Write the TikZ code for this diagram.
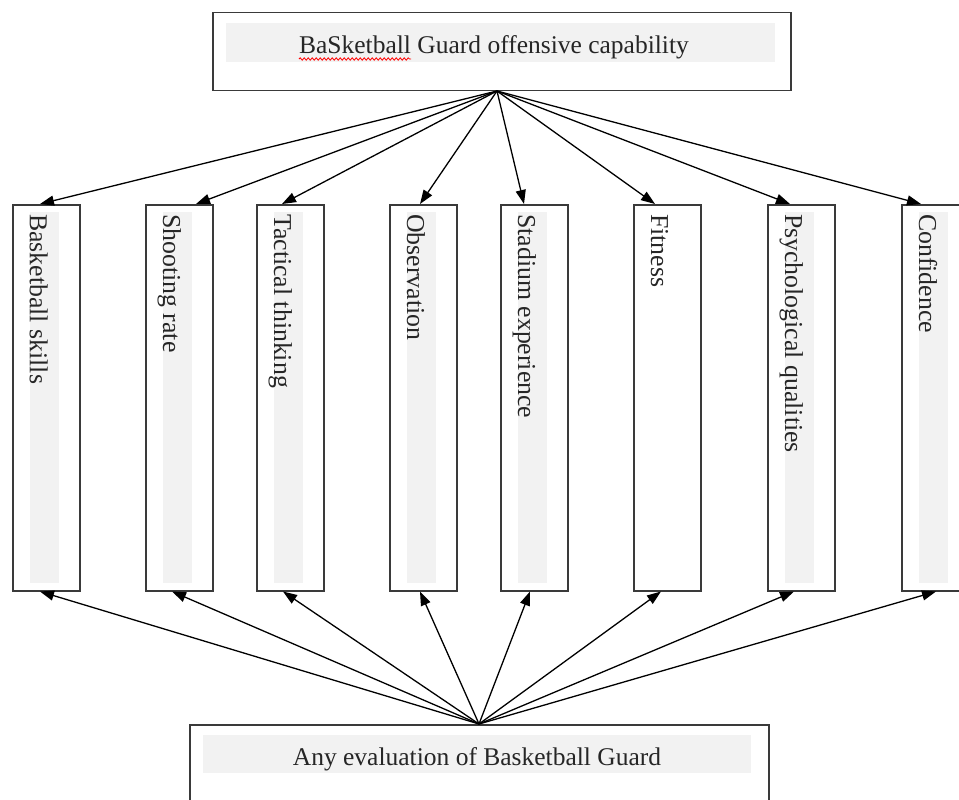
\documentclass[tikz,border=0pt]{standalone}
\usepackage{fontspec}
\setmainfont{Liberation Serif}
\usetikzlibrary{arrows.meta,calc,decorations.pathmorphing}
\definecolor{bandgray}{HTML}{F2F2F2}
\definecolor{boxline}{HTML}{3A3A3A}
\definecolor{txt}{HTML}{262626}
\tikzset{
  vbox/.style={draw=boxline, line width=1.5pt, minimum width=67pt, minimum height=386pt, inner sep=0pt, anchor=north west},
  hbox/.style={draw=boxline, line width=1.5pt, inner sep=0pt, anchor=north west},
  vtext/.style={rotate=-90, anchor=base west, inner sep=0pt, text=txt, font=\fontsize{25.8}{30}\selectfont},
  htext/.style={inner sep=0pt, text=txt, font=\fontsize{25.5}{30}\selectfont},
  conn/.style={line width=1.3pt, black, -{Triangle[length=14pt,width=10pt]}},
  band/.style={fill=bandgray}
}
\begin{document}
\begin{tikzpicture}[x=1pt,y=-1pt]
\useasboundingbox (0,0) rectangle (959,800);
% top box
\fill[band] (226,23) rectangle (775,62);
\node[hbox, minimum width=578pt, minimum height=78pt] (top) at (212,12) {};
\node[htext, anchor=base] (ttext) at (494,54) {BaSketball Guard offensive capability};
\node[htext, anchor=base west] (tw) at (ttext.base west) {\phantom{BaSketball}};
\draw[red, line width=0.8pt, decorate, decoration={snake, amplitude=1.2pt, segment length=4pt}]
  ($(tw.base west)+(0,5)$) -- ($(tw.base east)+(0,5)$);
% bottom box
\fill[band] (203,735) rectangle (751,773);
\node[hbox, minimum width=579pt, minimum height=110pt] (bot) at (189,724) {};
\node[htext, anchor=base] (btext) at (477,765) {Any evaluation of Basketball Guard};
% vertical boxes
\foreach \i/\x/\g in {1/12/1,2/145/1,3/256/1,4/389/1,5/500/1,6/633/0,7/767/1,8/901/1}{
  \ifnum\g=1 \fill[band] (\x+18,212) rectangle (\x+47,583); \fi
  \node[vbox] (b\i) at (\x,204) {};
}
\node[vtext] (t1) at ($(b1.north west)+(18,10)$) {Basketball skills};
\node[vtext] (t2) at ($(b2.north west)+(18,10)$) {Shooting rate};
\node[vtext] (t3) at ($(b3.north west)+(18,10)$) {Tactical thinking};
\node[vtext] (t4) at ($(b4.north west)+(18,10)$) {Observation};
\node[vtext] (t5) at ($(b5.north west)+(18,10)$) {Stadium experience};
\node[vtext] (t6) at ($(b6.north west)+(18,10)$) {Fitness};
\node[vtext] (t7) at ($(b7.north west)+(18,10)$) {Psychological qualities};
\node[vtext] (t8) at ($(b8.north west)+(18,10)$) {Confidence};
% convergence points
\coordinate (tc) at (497,91);
\coordinate (bc) at (479,724);
% top arrows
\foreach \i/\d in {1/28,2/51,3/26,4/31,5/24,6/22,7/23,8/20}{
  \draw[conn] (tc) -- ($(b\i.north west)+(\d,0)$);
}
% bottom arrows
\foreach \i/\d in {1/28,2/27,3/27,4/31,5/30,6/28,7/27,8/35}{
  \draw[conn] (bc) -- ($(b\i.south west)+(\d,0)$);
}
\end{tikzpicture}
\end{document}
